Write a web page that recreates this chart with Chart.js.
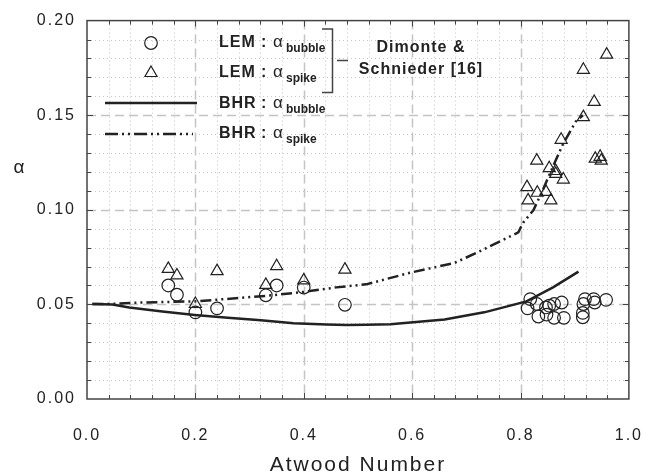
<!DOCTYPE html>
<html>
<head>
<meta charset="utf-8">
<script src="https://cdn.jsdelivr.net/npm/chart.js@4.4.1/dist/chart.umd.min.js"></script>
<style>
  html, body { margin: 0; padding: 0; background: #fff; }
  #wrap { width: 667px; height: 476px; position: relative; }
</style>
</head>
<body>
<div id="wrap"><canvas id="myChart"></canvas></div>
<script>
// ---- data ----
const xTickValues = [0, 0.2, 0.4, 0.6, 0.8, 1.0];
const yTickValues = [0, 0.05, 0.10, 0.15, 0.20];

// LEM : alpha bubble (circles)
const lemBubbleX = [0.150, 0.166, 0.200, 0.240, 0.330, 0.350, 0.400, 0.476,
  0.818, 0.813, 0.830, 0.833, 0.848, 0.847, 0.853, 0.862, 0.876, 0.862, 0.880,
  0.919, 0.935, 0.916, 0.937, 0.958, 0.915, 0.915];
const lemBubbleY = [0.0600, 0.0551, 0.0458, 0.0479, 0.0548, 0.0600, 0.0589, 0.0498,
  0.0528, 0.0479, 0.0502, 0.0436, 0.0446, 0.0484, 0.0493, 0.0502, 0.0510, 0.0429, 0.0429,
  0.0528, 0.0528, 0.0502, 0.0510, 0.0524, 0.0455, 0.0432];

// LEM : alpha spike (triangles)
const lemSpikeX = [0.150, 0.166, 0.200, 0.240, 0.330, 0.350, 0.400, 0.476,
  0.959, 0.916, 0.936, 0.916, 0.875, 0.830, 0.938, 0.947, 0.949, 0.853, 0.865, 0.865,
  0.879, 0.812, 0.831, 0.847, 0.814, 0.856];
const lemSpikeY = [0.0688, 0.0653, 0.0502, 0.0676, 0.0603, 0.0702, 0.0627, 0.0684,
  0.182, 0.174, 0.157, 0.149, 0.137, 0.126, 0.127, 0.128, 0.126, 0.122, 0.1205, 0.119,
  0.116, 0.112, 0.109, 0.1095, 0.105, 0.105];

// BHR : alpha bubble (solid line)
const bhrBubbleX = [0.01, 0.047, 0.078, 0.139, 0.199, 0.26, 0.321, 0.381, 0.442, 0.48,
  0.515, 0.56, 0.66, 0.733, 0.811, 0.86, 0.907];
const bhrBubbleY = [0.0502, 0.0500, 0.0484, 0.0462, 0.0444, 0.0429, 0.0416, 0.0401, 0.0394, 0.0391,
  0.0392, 0.0395, 0.0420, 0.0458, 0.0516, 0.0590, 0.0673];

// BHR : alpha spike (dash-dot-dot line)
const bhrSpikeX = [0.01, 0.05, 0.1, 0.2, 0.33, 0.4, 0.46, 0.515, 0.6, 0.678, 0.72,
  0.796, 0.805, 0.824, 0.842, 0.854, 0.878, 0.902, 0.915];
const bhrSpikeY = [0.0502, 0.0503, 0.0510, 0.0516, 0.0545, 0.0566, 0.0590, 0.0606, 0.0670, 0.0719, 0.0774,
  0.0881, 0.0932, 0.0999, 0.1110, 0.1190, 0.1345, 0.1467, 0.1500];

const FONT = '"Liberation Sans", Arial, sans-serif';
const INK = '#222';

function toPoints(xs, ys) {
  return xs.map((x, i) => ({ x: x, y: ys[i] }));
}

// grid, inward ticks, frame, legend and the upright alpha label
const figurePlugin = {
  id: 'figure',
  beforeDraw(chart) {
    // the figure's axis text is widely spaced
    chart.ctx.letterSpacing = '2px';
  },
  beforeDatasetsDraw(chart) {
    const ctx = chart.ctx;
    const a = chart.chartArea;
    const xs = chart.scales.x, ys = chart.scales.y;
    ctx.save();
    ctx.lineWidth = 1;
    // minor dotted grid
    ctx.strokeStyle = '#c6c6c6';
    ctx.setLineDash([1, 3]);
    for (let i = 1; i < 25; i++) {
      if (i % 5 === 0) continue;
      const px = Math.round(xs.getPixelForValue(i * 0.04)) + 0.5;
      ctx.beginPath(); ctx.moveTo(px, a.top); ctx.lineTo(px, a.bottom); ctx.stroke();
    }
    for (let i = 1; i < 20; i++) {
      if (i % 5 === 0) continue;
      const py = Math.round(ys.getPixelForValue(i * 0.01)) + 0.5;
      ctx.beginPath(); ctx.moveTo(a.left, py); ctx.lineTo(a.right, py); ctx.stroke();
    }
    // major dashed grid
    ctx.strokeStyle = '#c4c4c4';
    ctx.lineWidth = 1.5;
    ctx.setLineDash([9, 5]);
    [0.2, 0.4, 0.6, 0.8].forEach(v => {
      const px = Math.round(xs.getPixelForValue(v)) + 0.5;
      ctx.beginPath(); ctx.moveTo(px, a.top); ctx.lineTo(px, a.bottom); ctx.stroke();
    });
    [0.05, 0.10, 0.15].forEach(v => {
      const py = Math.round(ys.getPixelForValue(v)) + 0.5;
      ctx.beginPath(); ctx.moveTo(a.left, py); ctx.lineTo(a.right, py); ctx.stroke();
    });
    ctx.setLineDash([]);
    // inward ticks on all four sides
    ctx.strokeStyle = '#444';
    ctx.lineWidth = 1;
    for (let i = 1; i < 25; i++) {
      const px = Math.round(xs.getPixelForValue(i * 0.04)) + 0.5;
      const len = (i % 5 === 0) ? 6 : 4;
      ctx.beginPath(); ctx.moveTo(px, a.bottom); ctx.lineTo(px, a.bottom - len); ctx.stroke();
      ctx.beginPath(); ctx.moveTo(px, a.top); ctx.lineTo(px, a.top + len); ctx.stroke();
    }
    for (let i = 1; i < 20; i++) {
      const py = Math.round(ys.getPixelForValue(i * 0.01)) + 0.5;
      const len = (i % 5 === 0) ? 6 : 4;
      ctx.beginPath(); ctx.moveTo(a.left, py); ctx.lineTo(a.left + len, py); ctx.stroke();
      ctx.beginPath(); ctx.moveTo(a.right, py); ctx.lineTo(a.right - len, py); ctx.stroke();
    }
    // frame
    ctx.lineWidth = 1.5;
    ctx.strokeStyle = '#444';
    ctx.strokeRect(a.left, a.top, a.right - a.left, a.bottom - a.top);
    ctx.restore();
  },
  afterDatasetsDraw(chart) {
    const ctx = chart.ctx;
    ctx.save();
    ctx.strokeStyle = INK;

    // markers and line samples
    ctx.lineWidth = 1.2;
    ctx.fillStyle = 'rgba(0,0,0,0)';
    Chart.helpers.drawPoint(ctx, { pointStyle: 'circle', radius: 6.3, rotation: 0, borderWidth: 1.2 }, 151, 43);
    Chart.helpers.drawPoint(ctx, { pointStyle: 'triangle', radius: 7, rotation: 0, borderWidth: 1.2 }, 151, 73);
    ctx.lineWidth = 2.5;
    ctx.beginPath(); ctx.moveTo(105, 103); ctx.lineTo(197, 103); ctx.stroke();
    ctx.setLineDash([13, 4, 2, 4, 2, 4]);
    ctx.beginPath(); ctx.moveTo(105, 134); ctx.lineTo(193, 134); ctx.stroke();
    ctx.setLineDash([]);

    // labels
    ctx.fillStyle = INK;
    ctx.textBaseline = 'alphabetic';
    ctx.textAlign = 'left';
    const rows = [
      ['LEM', 'bubble', 47],
      ['LEM', 'spike', 77],
      ['BHR', 'bubble', 108],
      ['BHR', 'spike', 138]
    ];
    rows.forEach(r => {
      ctx.letterSpacing = '1px';
      ctx.font = 'bold 16px ' + FONT;
      ctx.fillText(r[0], 219, r[2]);
      ctx.fillText(':', 261, r[2]);
      ctx.font = '17px ' + FONT;
      ctx.fillText('\u03b1', 273, r[2]);
      ctx.letterSpacing = '0px';
      ctx.font = 'bold 12px ' + FONT;
      ctx.fillText(r[1], 286, r[2] + 5);
    });

    // bracket and reference
    ctx.letterSpacing = '1px';
    ctx.strokeStyle = '#444';
    ctx.lineWidth = 1.5;
    ctx.beginPath();
    ctx.moveTo(322, 29); ctx.lineTo(332.5, 29); ctx.lineTo(332.5, 92.5); ctx.lineTo(322, 92.5);
    ctx.stroke();
    ctx.beginPath(); ctx.moveTo(337, 60.5); ctx.lineTo(348, 60.5); ctx.stroke();
    ctx.font = 'bold 16px ' + FONT;
    ctx.textAlign = 'center';
    ctx.fillText('Dimonte &', 421, 52);
    ctx.fillText('Schnieder [16]', 421, 74);

    // upright alpha axis label
    ctx.letterSpacing = '0px';
    ctx.font = '19px ' + FONT;
    ctx.fillText('\u03b1', 19, 173);
    ctx.restore();
  }
};

const ctx = document.getElementById('myChart').getContext('2d');
window.myChart = new Chart(ctx, {
  type: 'scatter',
  data: {
    datasets: [
      {
        label: 'LEM : bubble',
        data: toPoints(lemBubbleX, lemBubbleY),
        pointStyle: 'circle',
        pointRadius: 6.3,
        borderColor: INK,
        backgroundColor: 'rgba(0,0,0,0)',
        borderWidth: 1.2
      },
      {
        label: 'LEM : spike',
        data: toPoints(lemSpikeX, lemSpikeY),
        pointStyle: 'triangle',
        pointRadius: 7,
        borderColor: INK,
        backgroundColor: 'rgba(0,0,0,0)',
        borderWidth: 1.2
      },
      {
        label: 'BHR : bubble',
        data: toPoints(bhrBubbleX, bhrBubbleY),
        showLine: true,
        pointRadius: 0,
        borderColor: INK,
        borderWidth: 2.5,
        tension: 0
      },
      {
        label: 'BHR : spike',
        data: toPoints(bhrSpikeX, bhrSpikeY),
        showLine: true,
        pointRadius: 0,
        borderColor: INK,
        borderWidth: 2.5,
        borderDash: [11, 4, 2, 4, 2, 4],
        tension: 0
      }
    ]
  },
  options: {
    responsive: true,
    maintainAspectRatio: false,
    animation: false,
    layout: { padding: { top: 14, right: 30, left: 0, bottom: 0 } },
    plugins: { legend: { display: false }, tooltip: { enabled: false } },
    scales: {
      x: {
        type: 'linear',
        min: 0, max: 1,
        grid: { display: false, drawTicks: false },
        border: { display: false },
        afterBuildTicks: s => { s.ticks = xTickValues.map(v => ({ value: v })); },
        afterFit: s => { s.height = 77; },
        title: {
          display: true,
          text: 'Atwood Number',
          color: INK,
          font: { family: FONT, size: 21, lineHeight: 1 },
          padding: { top: 0, bottom: 0 }
        },
        ticks: {
          padding: 27,
          maxRotation: 0,
          color: INK,
          font: { family: FONT, size: 16 },
          callback: v => v.toFixed(1)
        }
      },
      y: {
        type: 'linear',
        min: 0, max: 0.2,
        grid: { display: false, drawTicks: false },
        border: { display: false },
        afterBuildTicks: s => { s.ticks = yTickValues.map(v => ({ value: v })); },
        afterFit: s => { s.width = 87; },
        ticks: {
          padding: 11,
          color: INK,
          font: { family: FONT, size: 16 },
          callback: v => v.toFixed(2)
        }
      }
    }
  },
  plugins: [figurePlugin]
});
</script>
</body>
</html>
